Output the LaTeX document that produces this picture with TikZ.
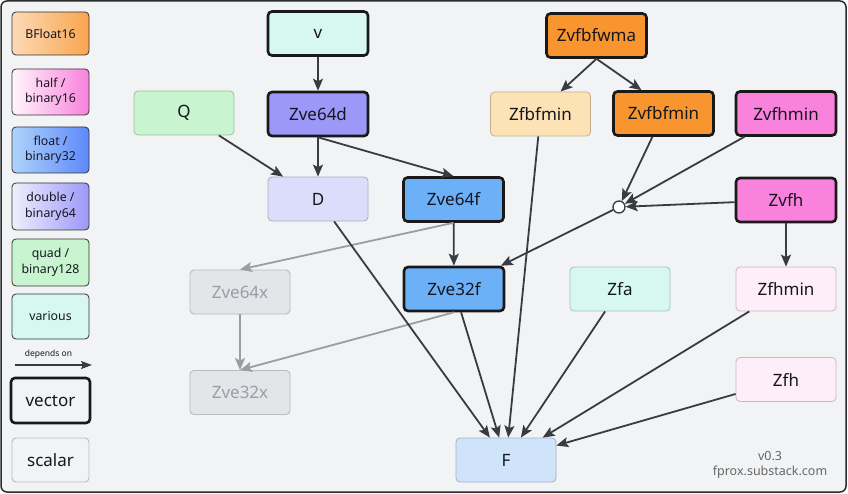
\documentclass[tikz,border=0pt]{standalone}
\usepackage{fontspec}
\setmainfont{Noto Sans}
\usetikzlibrary{arrows.meta,calc}
\definecolor{bg}{HTML}{F2F3F5}
\definecolor{frame}{HTML}{2A2C30}
\definecolor{edge}{HTML}{383B40}
\definecolor{gedge}{HTML}{9A9DA2}
\definecolor{mint}{HTML}{D6F8F1}
\definecolor{vpurple}{HTML}{9C98F8}
\definecolor{qgreen}{HTML}{C8F5CF}
\definecolor{dlav}{HTML}{DCDCFB}
\definecolor{fblue}{HTML}{6CB0F8}
\definecolor{orng}{HTML}{F8952F}
\definecolor{peach}{HTML}{FDE2B5}
\definecolor{pnk}{HTML}{F982DC}
\definecolor{lpnk}{HTML}{FDEEF9}
\definecolor{gfill}{HTML}{E3E5E9}
\definecolor{gbord}{HTML}{B8BBC0}
\definecolor{gtext}{HTML}{9A9EA5}
\definecolor{fF}{HTML}{CFE3FB}
\definecolor{txt}{HTML}{16161E}
\tikzset{
  box/.style={rectangle, rounded corners=4pt, minimum width=100pt, minimum height=44pt,
    inner sep=0pt, font=\fontsize{17}{18}\selectfont, text=txt},
  vecbox/.style={box, fill=#1, draw=black!90, line width=2.6pt},
  scabox/.style={box, fill=#1, draw=#1!78!black, line width=0.8pt},
  grbox/.style={box, fill=gfill, draw=gbord, line width=0.9pt, text=gtext},
  legbox/.style={rectangle, rounded corners=4pt, minimum width=77pt, inner sep=0pt,
    draw=black!80, line width=0.8pt, font=\fontsize{12.3}{15.5}\selectfont, align=center, text=txt},
  arr/.style={draw=edge, line width=1.8pt, -{Stealth[length=12pt,width=10pt,inset=2.5pt]}},
  garr/.style={draw=gedge, line width=1.8pt, -{Stealth[length=12pt,width=10pt,inset=2.5pt]}},
  jct/.style={circle, draw=edge, fill=white, line width=1.3pt, minimum size=12pt, inner sep=0pt}
}
\begin{document}
\begin{tikzpicture}[x=1pt,y=-1pt]
\useasboundingbox (0,0) rectangle (848,494);
\draw[rounded corners=6pt, fill=bg, draw=frame, line width=1.5pt] (1,1) rectangle (846,492);

% legend
\node[legbox, minimum height=43pt, left color=orng!35!white, right color=orng!85!white] (lbf) at (50.5,33.5) {BFloat16};
\node[legbox, minimum height=46pt, left color=pnk!8!white, right color=pnk] (lhalf) at (50.5,92) {half /\\binary16};
\node[legbox, minimum height=46pt, left color=fblue!55!white, right color=fblue!70!blue!90!white] (lfloat) at (50.5,150) {float /\\binary32};
\node[legbox, minimum height=47pt, left color=vpurple!15!white, right color=vpurple] (ldouble) at (50.5,206.5) {double /\\binary64};
\node[legbox, minimum height=47pt, fill=qgreen] (lquad) at (50.5,262.5) {quad /\\binary128};
\node[legbox, minimum height=45pt, fill=mint] (lvar) at (50.5,316.5) {various};
\coordinate (la) at (15,365);
\coordinate (lb) at (92,365);
\draw[draw=edge, line width=1.6pt, -{Stealth[length=11pt,width=8pt,inset=2pt]}] (la) -- (lb)
  node[midway, above=2pt, xshift=-5pt, font=\fontsize{8.5}{9}\bfseries\selectfont, text=txt] (ldep) {depends on};
\node[box, minimum width=79pt, minimum height=45pt, fill=bg, draw=black!90, line width=2.6pt] (lvec) at (50.5,400.5) {vector};
\node[box, minimum width=77pt, minimum height=44pt, fill=bg, draw=gbord, line width=0.9pt] (lsca) at (50.5,460) {scalar};

% nodes
\node[vecbox=mint] (v) at (318,33.5) {v};
\node[vecbox=vpurple] (Zve64d) at (318,114) {Zve64d};
\node[scabox=qgreen] (Q) at (184,113) {Q};
\node[scabox=dlav] (D) at (318,199) {D};
\node[vecbox=fblue] (Zve64f) at (453.5,199.5) {Zve64f};
\node[vecbox=orng] (Zvfbfwma) at (596.5,35.5) {Zvfbfwma};
\node[scabox=peach] (Zfbfmin) at (540.5,114) {Zfbfmin};
\node[vecbox=orng] (Zvfbfmin) at (663.5,113.5) {Zvfbfmin};
\node[vecbox=pnk] (Zvfhmin) at (786,113.5) {Zvfhmin};
\node[vecbox=pnk] (Zvfh) at (786,200) {Zvfh};
\node[jct] (J) at (619,207) {};
\node[vecbox=fblue] (Zve32f) at (454,289) {Zve32f};
\node[grbox] (Zve64x) at (240,292) {Zve64x};
\node[grbox] (Zve32x) at (240,392.5) {Zve32x};
\node[scabox=fF] (F) at (506,460) {F};
\node[scabox=mint] (Zfa) at (620,289) {Zfa};
\node[scabox=lpnk] (Zfhmin) at (786,289) {Zfhmin};
\node[scabox=lpnk] (Zfh) at (786,379.5) {Zfh};

\node[font=\fontsize{12.5}{14.5}\selectfont, text=black!60, align=center] (ver) at (770,465) {v0.3\\fprox.substack.com};

% edges
\draw[arr] (v) -- (Zve64d);
\draw[arr] (Zve64d) -- (D);
\draw[arr] (Q) -- (D);
\draw[arr] (Zve64d.south) -- (Zve64f.north);
\draw[arr] (Zve64f) -- (Zve32f);
\draw[garr] (Zve64f.south) -- (Zve64x.north);
\draw[garr] (Zve64x) -- (Zve32x);
\draw[garr] (Zve32f.south) -- (Zve32x.north);
\draw[arr] (Zve32f) -- (F);
\draw[arr] (D) -- (F);
\draw[arr] (Zfbfmin) -- (F);
\draw[arr] (Zfa) -- (F);
\draw[arr] (Zfhmin) -- (F);
\draw[arr] (Zfh) -- (F);
\draw[arr] (Zvfbfwma.south) -- ([xshift=20pt]Zfbfmin.north);
\draw[arr] (Zvfbfwma.south) -- ([xshift=-22pt]Zvfbfmin.north);
\draw[arr] (Zvfbfmin) -- (J);
\draw[arr] (Zvfhmin) -- (J);
\draw[arr] (Zvfh) -- (J);
\draw[arr] (J) -- (Zve32f);
\draw[arr] (Zvfh) -- (Zfhmin);
\end{tikzpicture}
\end{document}
